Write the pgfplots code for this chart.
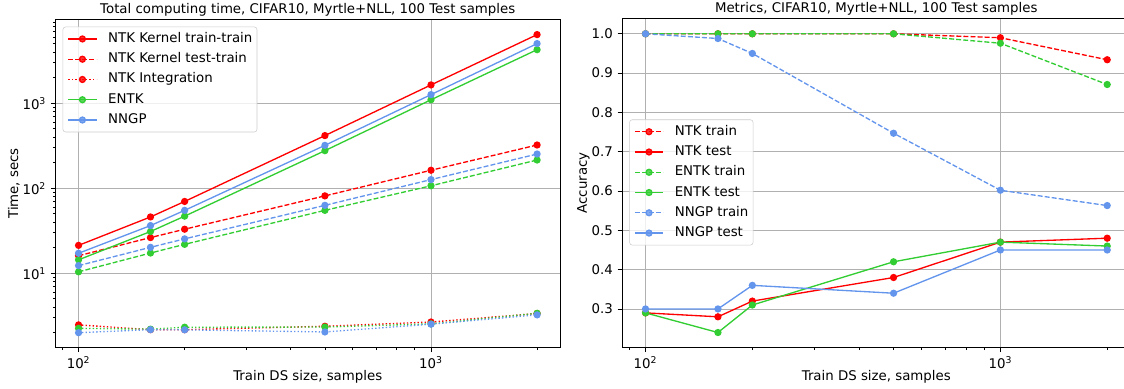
\documentclass[border=0pt]{standalone}
\usepackage{fontspec}
\setmainfont{DejaVu Sans}
\usepackage{pgfplots}
\pgfplotsset{compat=1.18}
\definecolor{cred}{RGB}{255,0,0}
\definecolor{cgreen}{RGB}{50,205,50}
\definecolor{cblue}{RGB}{100,149,237}
\definecolor{gridgray}{RGB}{176,176,176}
\definecolor{leggray}{RGB}{204,204,204}
\newcommand{\tf}{\fontsize{10}{12}\selectfont}
\tikzset{
  sol/.style={solid},
  dsh/.style={dash pattern=on 3.7pt off 1.6pt},
  dot/.style={dash pattern=on 1pt off 1.65pt},
}
\pgfplotsset{
  every axis title/.style={at={(0.5,1)}, anchor=base, yshift=4.5pt, font=\tf},
  every axis/.append style={
    scale only axis,
    grid=major,
    major grid style={gridgray, line width=0.6pt},
    axis line style={black, line width=0.6pt},
    tick style={black, line width=0.6pt},
    major tick length=3.5pt, minor tick length=2pt,
    tick align=outside, tick pos=left,
    tick label style={font=\tf},
    label style={font=\tf},
    xlabel style={at={(axis description cs:0.5,0)}, anchor=base, yshift=-24.4pt},
    legend cell align=left,
    legend style={font=\tf, draw=leggray, fill=white, fill opacity=0.8, text opacity=1,
      rounded corners=2pt, inner xsep=3.5pt, inner ysep=4pt, row sep=5.2pt,
      nodes={inner sep=0pt, text height=7.6pt, text depth=2.4pt}},
  },
  every axis plot/.append style={line width=1pt, mark=*, mark size=2.2pt, mark options={solid}},
  legend image code/.code={%
    \draw[mark repeat=2,mark phase=2,#1] plot coordinates {(0pt,0pt) (10.6pt,0pt) (21.2pt,0pt)};
    \path (29.45pt,0pt);},
}
\begin{document}
\begin{tikzpicture}
\useasboundingbox (-41.6pt,-31.1pt) rectangle (801.4pt,260.6pt);
\begin{axis}[
  width=378.4pt, height=246pt,
  at={(0pt,0pt)}, anchor=south west,
  xmode=log, xmin=86, xmax=2323,
  xtick={100,1000}, xticklabels={10\textsuperscript{2},10\textsuperscript{3}},
  minor xtick={90,200,300,400,500,600,700,800,900,2000},
  ymode=log, ymin=1.34, ymax=9690,
  ytick={10,100,1000}, yticklabels={10\textsuperscript{1},10\textsuperscript{2},10\textsuperscript{3}},
  minor ytick={2,3,4,5,6,7,8,9,20,30,40,50,60,70,80,90,200,300,400,500,600,700,800,900,2000,3000,4000,5000,6000,7000,8000,9000},
  title={Total computing time, CIFAR10, Myrtle+NLL, 100 Test samples},
  xlabel={Train DS size, samples},
  ylabel={Time, secs},
  ylabel style={at={(axis description cs:-0.0823,0.5)}, anchor=center},
  legend style={at={(axis description cs:0.0143,0.978)}, anchor=north west},
]
\addplot[cred, sol] coordinates {(100,21.3) (160,46) (200,70) (500,417) (1000,1645) (2000,6430)};
\addlegendentry{NTK Kernel train-train}
\addplot[cred, dsh] coordinates {(100,16.1) (160,26.3) (200,33) (500,81.4) (1000,163) (2000,323)};
\addlegendentry{NTK Kernel test-train}
\addplot[cred, dot] coordinates {(100,2.47) (160,2.17) (200,2.17) (500,2.38) (1000,2.67) (2000,3.36)};
\addlegendentry{NTK Integration}
\addplot[cgreen, sol] coordinates {(100,14.4) (160,31) (200,47) (500,277) (1000,1100) (2000,4275)};
\addlegendentry{ENTK}
\addplot[cgreen, dsh, forget plot] coordinates {(100,10.4) (160,17.3) (200,21.9) (500,55) (1000,107) (2000,215)};
\addplot[cgreen, dot, forget plot] coordinates {(100,2.25) (160,2.2) (200,2.32) (500,2.33) (1000,2.54) (2000,3.38)};
\addplot[cblue, sol] coordinates {(100,17.2) (160,36.4) (200,55) (500,320) (1000,1265) (2000,5040)};
\addlegendentry{NNGP}
\addplot[cblue, dsh, forget plot] coordinates {(100,12.3) (160,20.2) (200,25.4) (500,63) (1000,126.5) (2000,253)};
\addplot[cblue, dot, forget plot] coordinates {(100,2.0) (160,2.17) (200,2.16) (500,2.04) (1000,2.52) (2000,3.24)};
\end{axis}
\begin{axis}[
  width=381pt, height=246.75pt,
  at={(425.1pt,0pt)}, anchor=south west,
  xmode=log, xmin=86, xmax=2323,
  xtick={100,1000}, xticklabels={10\textsuperscript{2},10\textsuperscript{3}},
  minor xtick={90,200,300,400,500,600,700,800,900,2000},
  ymin=0.202, ymax=1.039,
  ytick={0.3,0.4,0.5,0.6,0.7,0.8,0.9,1.0},
  yticklabels={0.3,0.4,0.5,0.6,0.7,0.8,0.9,1.0},
  title={Metrics, CIFAR10, Myrtle+NLL, 100 Test samples},
  xlabel={Train DS size, samples},
  ylabel={Accuracy},
  ylabel style={at={(axis description cs:-0.0766,0.5)}, anchor=center},
  legend style={at={(axis description cs:0.0138,0.693)}, anchor=north west},
]
\addplot[cred, dsh] coordinates {(100,1.0) (160,1.0) (200,1.0) (500,1.0) (1000,0.99) (2000,0.934)};
\addlegendentry{NTK train}
\addplot[cred, sol] coordinates {(100,0.29) (160,0.28) (200,0.32) (500,0.38) (1000,0.47) (2000,0.48)};
\addlegendentry{NTK test}
\addplot[cgreen, dsh] coordinates {(100,1.0) (160,1.0) (200,1.0) (500,1.0) (1000,0.976) (2000,0.871)};
\addlegendentry{ENTK train}
\addplot[cgreen, sol] coordinates {(100,0.29) (160,0.24) (200,0.31) (500,0.42) (1000,0.47) (2000,0.46)};
\addlegendentry{ENTK test}
\addplot[cblue, dsh] coordinates {(100,1.0) (160,0.988) (200,0.95) (500,0.747) (1000,0.602) (2000,0.563)};
\addlegendentry{NNGP train}
\addplot[cblue, sol] coordinates {(100,0.30) (160,0.30) (200,0.36) (500,0.34) (1000,0.45) (2000,0.45)};
\addlegendentry{NNGP test}
\end{axis}
\end{tikzpicture}
\end{document}
